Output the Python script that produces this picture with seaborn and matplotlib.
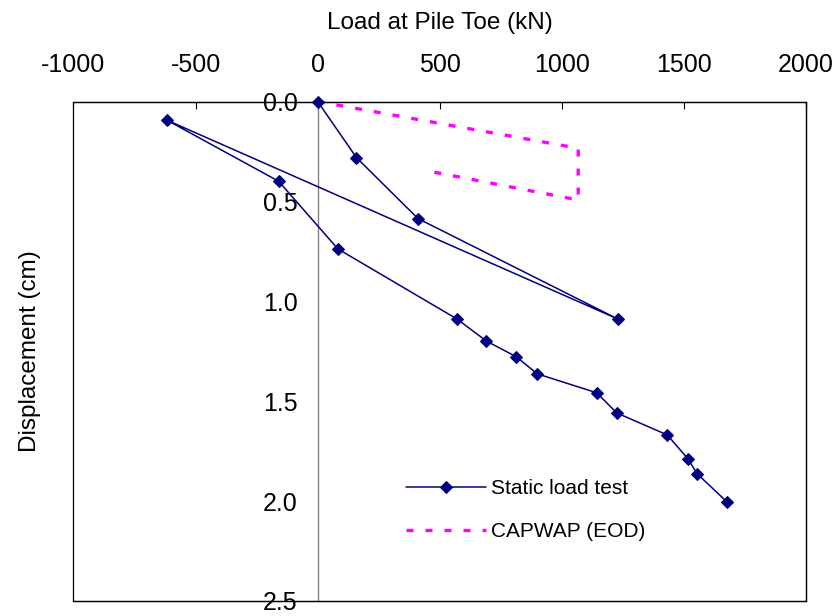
import matplotlib
matplotlib.use("Agg")
import matplotlib.pyplot as plt
from matplotlib.patches import Rectangle
import seaborn as sns
import pandas as pd

# ---- data ----
static_load = [0, 159, 411, 1228, -618, -160, 83, 571, 691, 814, 899, 1143, 1225, 1432, 1516, 1554, 1676]
static_disp = [0.0, 0.281, 0.586, 1.088, 0.093, 0.399, 0.738, 1.089, 1.199, 1.278, 1.363, 1.458, 1.559, 1.669, 1.788, 1.863, 2.004]

capwap_load = [0, 1067, 1067, 445]
capwap_disp = [0.0, 0.234, 0.493, 0.346]

x_ticks = [-1000, -500, 0, 500, 1000, 1500, 2000]
y_ticks = [0.0, 0.5, 1.0, 1.5, 2.0, 2.5]

static_label = "Static load test"
capwap_label = "CAPWAP (EOD)"
x_label = "Load at Pile Toe (kN)"
y_label = "Displacement (cm)"

sns.set_style("white")
plt.rcParams["font.family"] = ["Liberation Sans", "DejaVu Sans"]
plt.rcParams["text.color"] = "black"
plt.rcParams["axes.labelcolor"] = "black"
plt.rcParams["xtick.color"] = "black"
plt.rcParams["ytick.color"] = "black"

static_df = pd.DataFrame({"load": static_load, "disp": static_disp})
capwap_df = pd.DataFrame({"load": capwap_load, "disp": capwap_disp})

fig = plt.figure(figsize=(8.39, 6.16), dpi=100)
ax = fig.add_axes([0.0876, 0.0244, 0.9607 - 0.0876, 0.8352 - 0.0244])

sns.lineplot(data=static_df, x="load", y="disp", sort=False, estimator=None,
             color="#000080", linewidth=1.1, marker="D", markersize=6.5,
             markeredgecolor="#000080", markerfacecolor="#000080",
             label=static_label, ax=ax, clip_on=False, zorder=5)
sns.lineplot(data=capwap_df, x="load", y="disp", sort=False, estimator=None,
             color="#ff00ff", linewidth=2.4, linestyle=(0, (2.1, 3.6)),
             label=capwap_label, ax=ax, clip_on=False, zorder=4)

ax.set_xlim(-1000, 2000)
ax.set_ylim(2.5, 0.0)
ax.set_xticks(x_ticks)
ax.set_xticklabels([str(v) for v in x_ticks])
ax.set_yticks(y_ticks)
ax.set_yticklabels([f"{v:.1f}" for v in y_ticks])

# x axis on top
ax.xaxis.tick_top()
ax.xaxis.set_label_position("top")
ax.tick_params(axis="x", direction="in", length=5, width=0.8, color="black",
               labelcolor="black", labelsize=18, pad=18, top=True, bottom=False)
ax.set_xlabel(x_label, fontsize=17.5, labelpad=17, color="black")

# y axis at x = 0
ax.spines["left"].set_position(("data", 0))
ax.spines["left"].set_color("#808080")
ax.spines["left"].set_linewidth(1.0)
ax.tick_params(axis="y", direction="out", length=3.6, width=0.8, color="#808080",
               labelcolor="black", labelsize=18, pad=11)
ax.set_ylabel(y_label, fontsize=17.5, color="black")
ax.yaxis.set_label_coords(-0.0445, 0.5)

for s in ["top", "right", "bottom"]:
    ax.spines[s].set_color("black")
    ax.spines[s].set_linewidth(0.9)
ax.add_patch(Rectangle((0, 0), 1, 1, transform=ax.transAxes, fill=False,
                       edgecolor="black", linewidth=0.9, clip_on=False, zorder=0.5))

leg = ax.legend(loc="center left", bbox_to_anchor=(0.454, 0.182), frameon=False,
                fontsize=15, handlelength=3.85, handletextpad=0.25,
                labelspacing=1.15, borderpad=0, borderaxespad=0)
for t in leg.get_texts():
    t.set_color("black")

fig.savefig("out.png", dpi=100, facecolor="white")
